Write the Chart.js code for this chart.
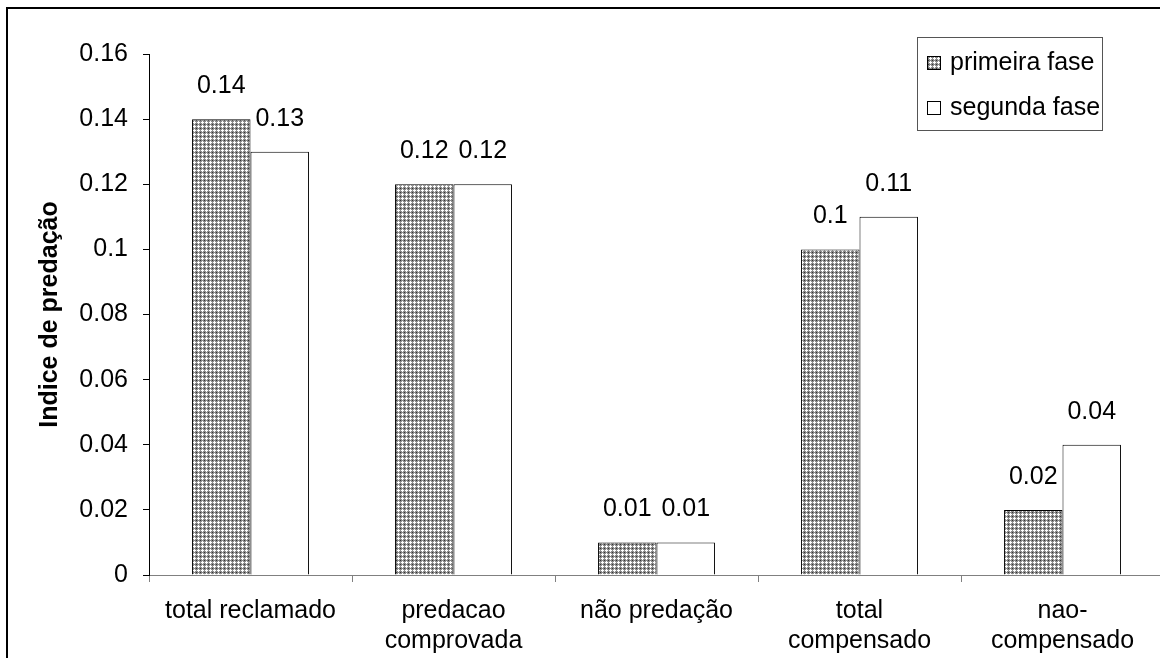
<!DOCTYPE html>
<html>
<head>
<meta charset="utf-8">
<script src="https://cdn.jsdelivr.net/npm/chart.js@4"></script>
<style>
html, body { margin: 0; padding: 0; background: #fff; overflow: hidden; }
#wrap { position: relative; width: 1170px; height: 658px; }
#frame { position: absolute; left: 6px; top: 7px; width: 1200px; height: 700px; border: 2px solid #000; pointer-events: none; }
</style>
</head>
<body>
<div id="wrap"><canvas id="chart"></canvas><div id="frame"></div></div>
<script>
const categories = ["total reclamado", ["predacao", "comprovada"], "não predação", ["total", "compensado"], ["nao-", "compensado"]];
const primeiraFase = [0.14, 0.12, 0.01, 0.10, 0.02];
const segundaFase = [0.13, 0.12, 0.01, 0.11, 0.04];
const yTicks = [0, 0.02, 0.04, 0.06, 0.08, 0.10, 0.12, 0.14, 0.16];

const FONT = '"Liberation Sans", Arial, sans-serif';

// checkered fill like the excel pattern
function makePattern() {
    let c = document.createElement('canvas');
    c.width = 4; c.height = 4;
    let x = c.getContext('2d');
    x.fillStyle = '#8a8a8a';
    x.fillRect(0, 0, 4, 4);
    x.fillStyle = '#ffffff';
    [[2, 1], [1, 2], [2, 2], [3, 2], [2, 3]].forEach(p => x.fillRect(p[0], p[1], 1, 1));
    x.fillStyle = '#333333';
    x.fillRect(0, 0, 1, 1);
    return x.createPattern(c, 'repeat');
}
const hatch = makePattern();

const valueLabels = {
    id: 'valueLabels',
    afterDatasetsDraw(chart) {
        let ctx = chart.ctx;
        ctx.save();
        ctx.font = '25px ' + FONT;
        ctx.fillStyle = '#000';
        ctx.textAlign = 'center';
        ctx.textBaseline = 'middle';
        chart.data.datasets.forEach((ds, i) => {
            chart.getDatasetMeta(i).data.forEach((bar, j) => {
                ctx.fillText(String(ds.data[j]), bar.x, bar.y - 33);
            });
        });
        ctx.restore();
    }
};

const legendBox = {
    id: 'legendBox',
    afterDraw(chart) {
        let ctx = chart.ctx;
        ctx.save();
        ctx.fillStyle = '#fff';
        ctx.fillRect(917, 37, 186, 94);
        ctx.strokeStyle = '#555';
        ctx.lineWidth = 1;
        ctx.strokeRect(917.5, 37.5, 185, 93);
        chart.data.datasets.forEach((ds, i) => {
            let y = 63 + i * 45;
            ctx.fillStyle = ds.backgroundColor;
            ctx.fillRect(927, y - 7, 14, 14);
            ctx.strokeStyle = '#000';
            ctx.strokeRect(927.5, y - 6.5, 13, 13);
            ctx.fillStyle = '#000';
            ctx.font = '25px ' + FONT;
            ctx.textAlign = 'left';
            ctx.textBaseline = 'middle';
            ctx.fillText(ds.label, 950, y);
        });
        ctx.restore();
    }
};

new Chart(document.getElementById('chart').getContext('2d'), {
    type: 'bar',
    data: {
        labels: categories,
        datasets: [
            { label: 'primeira fase', data: primeiraFase, backgroundColor: hatch, borderColor: '#000', borderWidth: 1 },
            { label: 'segunda fase', data: segundaFase, backgroundColor: '#fff', borderColor: '#000', borderWidth: 1 }
        ]
    },
    options: {
        responsive: true,
        maintainAspectRatio: false,
        animation: false,
        layout: { padding: { left: 10, right: 6, top: 54, bottom: 0 } },
        datasets: { bar: { categoryPercentage: 0.576, barPercentage: 1 } },
        plugins: {
            legend: { display: false },
            tooltip: { enabled: false }
        },
        scales: {
            x: {
                grid: { drawOnChartArea: false, drawTicks: true, tickLength: 7, color: '#808080' },
                border: { color: '#808080' },
                ticks: {
                    color: '#000', font: { family: FONT, size: 25, lineHeight: 1.2 },
                    padding: 14, maxRotation: 0, autoSkip: false
                },
                afterFit(s) { s.height = 83; }
            },
            y: {
                min: 0,
                max: 0.16,
                afterBuildTicks(s) { s.ticks = yTicks.map(v => ({ value: v })); },
                grid: { drawOnChartArea: false, drawTicks: true, tickLength: 6, color: '#000' },
                border: { color: '#000' },
                ticks: {
                    color: '#000', font: { family: FONT, size: 25 }, padding: 15,
                    callback: v => String(+v.toFixed(2))
                },
                title: {
                    display: true, text: 'Indice de predação', color: '#000',
                    font: { family: FONT, size: 25, weight: 'bold' }, padding: { top: 25, bottom: 0 }
                },
                afterFit(s) { s.width = 139; }
            }
        }
    },
    plugins: [valueLabels, legendBox]
});
</script>
</body>
</html>
